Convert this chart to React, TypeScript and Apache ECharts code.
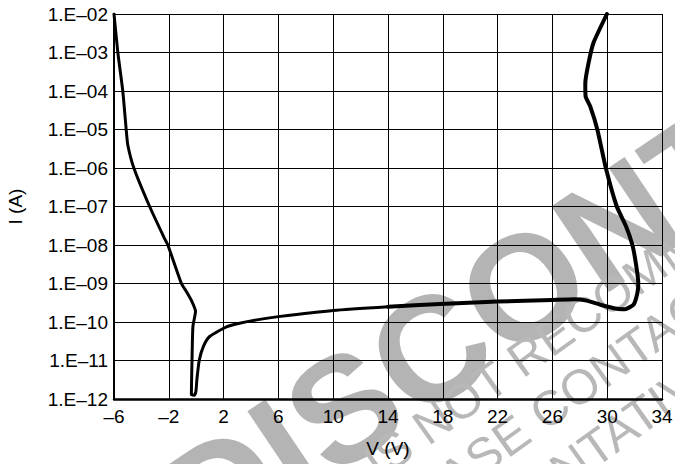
import React, { useEffect, useRef } from "react";
import * as echarts from "echarts";

// ---- Axis ticks ----
const xTickValues = [-6, -2, 2, 6, 10, 14, 18, 22, 26, 30, 34];
const xTickLabels = ["–6", "–2", "2", "6", "10", "14", "18", "22", "26", "30", "34"];
const yTickValues = [1e-12, 1e-11, 1e-10, 1e-9, 1e-8, 1e-7, 1e-6, 1e-5, 1e-4, 1e-3, 1e-2];
const yTickLabels = [
  "1.E–12", "1.E–11", "1.E–10", "1.E–09", "1.E–08", "1.E–07",
  "1.E–06", "1.E–05", "1.E–04", "1.E–03", "1.E–02",
];

// ---- Curve, first part (reverse branch, valley, low-current plateau) ----
const lowBranchV = [
  -6.0, -5.72, -5.36, -5.11, -4.99, -4.55, -3.4, -2.26, -2.07, -1.08, -0.72, -0.36,
  -0.05, -0.24, -0.31, -0.35, -0.15, -0.02, 0.05, 0.22, 0.52, 0.98, 2.25, 3.17,
  4.64, 6.0, 10.0, 14.0,
];
const lowBranchI = [
  1.0e-2, 1.0e-3, 1.0e-4, 1.0e-5, 3.9e-6, 1.0e-6, 1.0e-7, 1.35e-8, 1.0e-8, 1.0e-9, 6.2e-10, 3.7e-10,
  1.9e-10, 7.6e-11, 8.5e-12, 1.3e-12, 1.25e-12, 1.6e-12, 3.2e-12, 1.0e-11, 2.3e-11, 4.2e-11, 7.6e-11, 9.3e-11,
  1.17e-10, 1.38e-10, 2.0e-10, 2.5e-10,
];

// ---- Curve, second part (plateau to snap-back and breakdown) ----
const highBranchV = [
  14.0, 17.8, 22.0, 26.0, 27.6, 28.5, 29.5, 30.7, 31.3, 31.92, 32.2, 32.27,
  32.1, 31.84, 31.35, 30.7, 29.9, 29.28, 28.76, 28.43, 28.4, 28.64, 29.0, 29.98,
];
const highBranchI = [
  2.5e-10, 2.95e-10, 3.4e-10, 3.75e-10, 3.9e-10, 3.6e-10, 2.8e-10, 2.2e-10, 2.15e-10, 2.8e-10, 5.6e-10, 1.0e-9,
  3.2e-9, 1.0e-8, 3.2e-8, 1.0e-7, 1.0e-6, 1.0e-5, 4.0e-5, 7.0e-5, 1.6e-4, 5.4e-4, 1.8e-3, 1.0e-2,
];

// ---- Watermark texts ----
const watermarkBig = "DISCONTINUED";
const watermarkLines = [
  "THIS DEVICE IS NOT RECOMMENDED FOR NEW DESIGN.",
  "PLEASE CONTACT YOUR",
  "REPRESENTATIVE FOR INFORMATION",
];

const FONT = "'Liberation Sans', Arial, Helvetica, sans-serif";

function pairs(xs: number[], ys: number[]) {
  return xs.map((x, i) => [x, ys[i]]);
}

export default function App() {
  const ref = useRef<HTMLDivElement>(null);

  useEffect(() => {
    if (!ref.current) return;
    const chart = echarts.init(ref.current, undefined, { renderer: "svg" });

    const smallAngle = (35.5 * Math.PI) / 180;
    const bigAngle = (34 * Math.PI) / 180;
    const smallStarts = [
      [108, 654],
      [369, 537],
      [365, 612],
    ];

    const graphicEls: any[] = [
      {
        type: "text",
        x: 178,
        y: 520,
        rotation: bigAngle,
        z: -10,
        silent: true,
        style: {
          text: watermarkBig,
          fontSize: 150,
          fontWeight: "bold",
          fontFamily: FONT,
          fill: "#b4b4b4",
          align: "left",
          verticalAlign: "middle",
        },
      },
      ...watermarkLines.map((t, i) => ({
        type: "text",
        x: smallStarts[i][0],
        y: smallStarts[i][1],
        rotation: smallAngle,
        z: -10,
        silent: true,
        style: {
          text: t,
          fontSize: 49,
          fontFamily: FONT,
          fill: "#b8b8b8",
          align: "left",
          verticalAlign: "middle",
        },
      })),
    ];

    const option: any = {
      animation: false,
      backgroundColor: "#ffffff",
      grid: {
        left: 114,
        right: 13,
        top: 14,
        bottom: 65,
        containLabel: false,
        outerBoundsMode: "none",
      },
      graphic: { elements: graphicEls },
      xAxis: {
        type: "value",
        min: -6,
        max: 34,
        interval: 4,
        name: "V (V)",
        nameLocation: "middle",
        nameGap: 40,
        nameTextStyle: { fontSize: 19, color: "#000", fontFamily: FONT },
        axisLine: { show: true, onZero: false, lineStyle: { color: "#000", width: 2.5 } },
        axisTick: { show: false },
        axisLabel: {
          margin: 8,
          fontSize: 19,
          color: "#000",
          fontFamily: FONT,
          formatter: (v: number) => {
            const idx = xTickValues.findIndex((t) => Math.abs(t - v) < 1e-6);
            return idx >= 0 ? xTickLabels[idx] : "";
          },
        },
        splitLine: { show: true, lineStyle: { color: "#000", width: 1 } },
      },
      yAxis: {
        type: "log",
        logBase: 10,
        min: 1e-12,
        max: 1e-2,
        interval: 1,
        splitNumber: 10,
        name: "I (A)",
        nameLocation: "middle",
        nameGap: 89,
        nameTextStyle: { fontSize: 19, color: "#000", fontFamily: FONT },
        axisLine: { show: true, onZero: false, lineStyle: { color: "#000", width: 2 } },
        axisTick: { show: false },
        minorTick: { show: false },
        axisLabel: {
          margin: 6,
          fontSize: 19,
          color: "#000",
          fontFamily: FONT,
          formatter: (v: number) => {
            const idx = yTickValues.findIndex(
              (t) => Math.abs(Math.log10(t) - Math.log10(v)) < 1e-6
            );
            return idx >= 0 ? yTickLabels[idx] : "";
          },
        },
        splitLine: { show: true, lineStyle: { color: "#000", width: 1 } },
      },
      series: [
        {
          type: "line",
          data: pairs(lowBranchV, lowBranchI),
          showSymbol: false,
          symbol: "none",
          smooth: 0.2,
          z: 5,
          lineStyle: { color: "#000", width: 3, cap: "round", join: "round" },
        },
        {
          type: "line",
          data: pairs(highBranchV, highBranchI),
          showSymbol: false,
          symbol: "none",
          smooth: 0.15,
          z: 5,
          lineStyle: { color: "#000", width: 4, cap: "round", join: "round" },
        },
      ],
    };

    chart.setOption(option);
    return () => chart.dispose();
  }, []);

  return (
    <div
      ref={ref}
      style={{ position: "fixed", left: 0, top: 0, width: 675, height: 464, background: "#fff" }}
    />
  );
}
